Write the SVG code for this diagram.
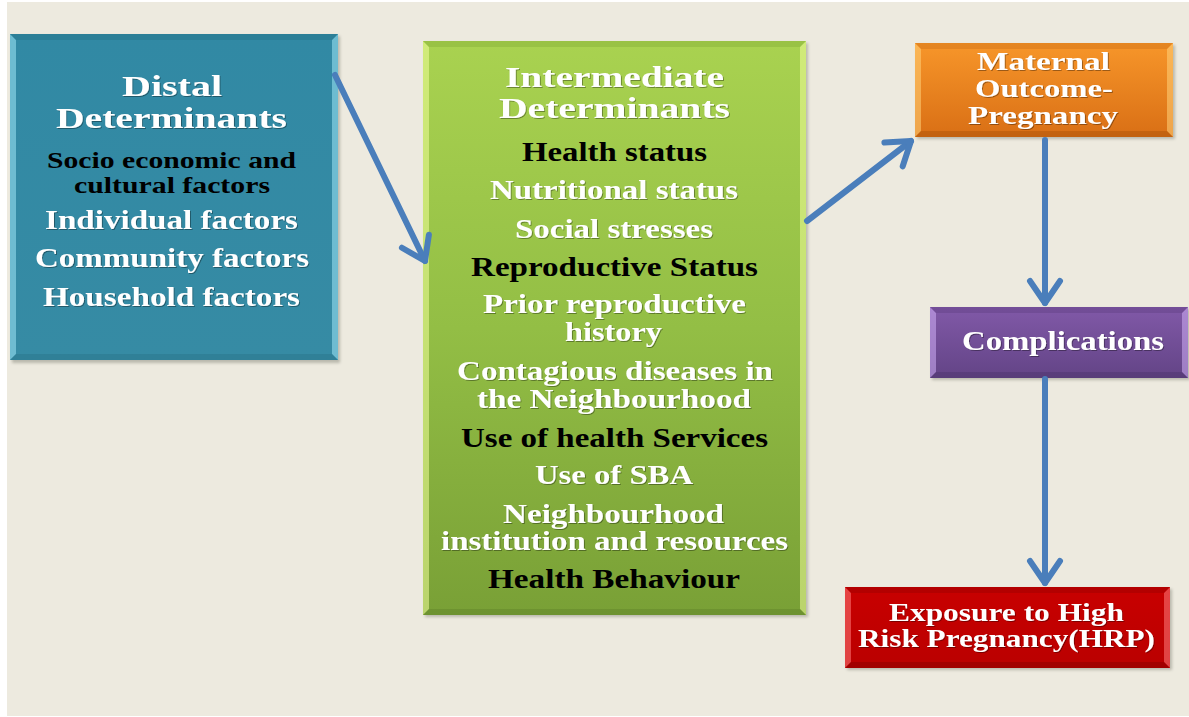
<svg xmlns="http://www.w3.org/2000/svg" width="1189" height="717" viewBox="0 0 1189 717">
  <defs>
    <style>
      .t { font-family: "Liberation Serif", "Times New Roman", serif; font-weight: bold; }
      .w { fill: #FFFFFF; }
      .k { fill: #000000; }
      .h { font-size: 30px; }
      .m { font-size: 27px; }
      .s { font-size: 24px; }
      .link { fill: none; stroke: #4A7EBB; stroke-width: 6; stroke-linecap: round; marker-end: url(#head); }
      .shadow { fill: #7a7a70; opacity: 0.45; filter: url(#soft); }
      .edge { opacity: 0.55; }
      .rim { opacity: 0.28; }
    </style>
    <filter id="soft" x="-5%" y="-5%" width="110%" height="110%">
      <feGaussianBlur stdDeviation="1.5"/>
    </filter>
    <filter id="tshadow" x="-5%" y="-20%" width="110%" height="140%">
      <feDropShadow dx="1" dy="1" stdDeviation="0.6" flood-color="#000" flood-opacity="0.35"/>
    </filter>
    <marker id="head" markerUnits="userSpaceOnUse" markerWidth="60" markerHeight="60" viewBox="-30 -30 60 60" refX="0" refY="0" orient="auto" overflow="visible">
      <path d="M-22,-15 L0,0 L-22,15" fill="none" stroke="#4A7EBB" stroke-width="6" stroke-linecap="round" stroke-linejoin="round"/>
    </marker>
    <linearGradient id="gTeal" x1="0" y1="0" x2="0" y2="1">
      <stop offset="0" stop-color="#3189A4"/>
      <stop offset="1" stop-color="#368BA4"/>
    </linearGradient>
    <linearGradient id="gGreen" x1="0" y1="0" x2="0" y2="1">
      <stop offset="0" stop-color="#A9D250"/>
      <stop offset="0.5" stop-color="#93BE45"/>
      <stop offset="1" stop-color="#79A036"/>
    </linearGradient>
    <linearGradient id="gOrange" x1="0" y1="0" x2="0" y2="1">
      <stop offset="0" stop-color="#F7962A"/>
      <stop offset="1" stop-color="#D96F15"/>
    </linearGradient>
    <linearGradient id="gPurple" x1="0" y1="0" x2="0" y2="1">
      <stop offset="0" stop-color="#8159A8"/>
      <stop offset="1" stop-color="#634486"/>
    </linearGradient>
    <linearGradient id="gRed" x1="0" y1="0" x2="0" y2="1">
      <stop offset="0" stop-color="#C80000"/>
      <stop offset="1" stop-color="#BA0000"/>
    </linearGradient>
  </defs>

  <!-- page -->
  <rect x="0" y="0" width="1189" height="717" fill="#FFFFFF"/>
  <rect x="7" y="2" width="1182" height="714" fill="#EDEADF"/>

  <!-- Distal determinants -->
  <g id="distal">
    <rect class="shadow" x="12" y="36" width="328" height="327"/>
    <rect x="10" y="34" width="328" height="326" fill="url(#gTeal)"/>
    <polygon class="edge" points="10,34 16,40 16,354 10,360" fill="#9FE6F5"/>
    <polygon class="edge" points="338,34 332,40 332,354 338,360" fill="#9FE6F5"/>
    <polygon class="rim" points="10,360 16,354 332,354 338,360" fill="#1F6478"/>
    <polygon class="rim" points="10,34 16,40 332,40 338,34" fill="#1F6478"/>
    <g filter="url(#tshadow)">
      <text class="t w h" x="122" y="96" textLength="100" lengthAdjust="spacingAndGlyphs">Distal</text>
      <text class="t w h" x="56" y="128" textLength="231" lengthAdjust="spacingAndGlyphs">Determinants</text>
    </g>
    <text class="t k s" x="47" y="168" textLength="249" lengthAdjust="spacingAndGlyphs">Socio economic and</text>
    <text class="t k s" x="74" y="193" textLength="196" lengthAdjust="spacingAndGlyphs">cultural factors</text>
    <g filter="url(#tshadow)">
      <text class="t w m" x="45" y="229" textLength="253" lengthAdjust="spacingAndGlyphs">Individual factors</text>
      <text class="t w m" x="35" y="267" textLength="274" lengthAdjust="spacingAndGlyphs">Community factors</text>
      <text class="t w m" x="43" y="306" textLength="257" lengthAdjust="spacingAndGlyphs">Household factors</text>
    </g>
  </g>

  <!-- Intermediate determinants -->
  <g id="intermediate">
    <rect class="shadow" x="425" y="43" width="383" height="574"/>
    <rect x="423" y="41" width="383" height="574" fill="url(#gGreen)"/>
    <polygon class="edge" points="423,41 429,47 429,609 423,615" fill="#F0FF9A"/>
    <polygon class="edge" points="806,41 800,47 800,609 806,615" fill="#F0FF9A"/>
    <polygon class="rim" points="423,615 429,609 800,609 806,615" fill="#4E6E20"/>
    <polygon class="rim" points="423,41 429,47 800,47 806,41" fill="#6E9A2C"/>
    <g filter="url(#tshadow)">
      <text class="t w h" x="505" y="87" textLength="219" lengthAdjust="spacingAndGlyphs">Intermediate</text>
      <text class="t w h" x="499" y="118" textLength="231" lengthAdjust="spacingAndGlyphs">Determinants</text>
    </g>
    <text class="t k m" x="522" y="161" textLength="185" lengthAdjust="spacingAndGlyphs">Health status</text>
    <text class="t w m" filter="url(#tshadow)" x="490" y="199" textLength="248" lengthAdjust="spacingAndGlyphs">Nutritional status</text>
    <text class="t w m" filter="url(#tshadow)" x="515" y="238" textLength="198" lengthAdjust="spacingAndGlyphs">Social stresses</text>
    <text class="t k m" x="471" y="276" textLength="287" lengthAdjust="spacingAndGlyphs">Reproductive Status</text>
    <g filter="url(#tshadow)">
      <text class="t w m" x="483" y="313" textLength="263" lengthAdjust="spacingAndGlyphs">Prior reproductive</text>
      <text class="t w m" x="565" y="341" textLength="97" lengthAdjust="spacingAndGlyphs">history</text>
      <text class="t w m" x="457" y="380" textLength="316" lengthAdjust="spacingAndGlyphs">Contagious diseases in</text>
      <text class="t w m" x="477" y="408" textLength="274" lengthAdjust="spacingAndGlyphs">the Neighbourhood</text>
    </g>
    <text class="t k m" x="461" y="447" textLength="307" lengthAdjust="spacingAndGlyphs">Use of health Services</text>
    <g filter="url(#tshadow)">
      <text class="t w m" x="535" y="484" textLength="158" lengthAdjust="spacingAndGlyphs">Use of SBA</text>
      <text class="t w m" x="503" y="523" textLength="221" lengthAdjust="spacingAndGlyphs">Neighbourhood</text>
      <text class="t w m" x="441" y="550" textLength="347" lengthAdjust="spacingAndGlyphs">institution and resources</text>
    </g>
    <text class="t k m" x="488" y="588" textLength="252" lengthAdjust="spacingAndGlyphs">Health Behaviour</text>
  </g>

  <!-- Maternal outcome -->
  <g id="maternal">
    <rect class="shadow" x="917" y="45" width="258" height="94"/>
    <rect x="915" y="43" width="258" height="94" fill="url(#gOrange)"/>
    <polygon class="edge" points="915,43 921,49 921,131 915,137" fill="#FFD27A"/>
    <polygon class="edge" points="1173,43 1167,49 1167,131 1173,137" fill="#FFD27A"/>
    <polygon class="rim" points="915,137 921,131 1167,131 1173,137" fill="#8A4005"/>
    <polygon class="rim" points="915,43 921,49 1167,49 1173,43" fill="#B85E10"/>
    <g filter="url(#tshadow)">
      <text class="t w" font-size="26" x="977" y="70" textLength="133" lengthAdjust="spacingAndGlyphs">Maternal</text>
      <text class="t w" font-size="26" x="975" y="97" textLength="138" lengthAdjust="spacingAndGlyphs">Outcome-</text>
      <text class="t w" font-size="26" x="968" y="124" textLength="150" lengthAdjust="spacingAndGlyphs">Pregnancy</text>
    </g>
  </g>

  <!-- Complications -->
  <g id="complications">
    <rect class="shadow" x="932" y="309" width="258" height="71"/>
    <rect x="930" y="307" width="258" height="71" fill="url(#gPurple)"/>
    <polygon class="edge" points="930,307 936,313 936,372 930,378" fill="#CFAFF5"/>
    <polygon class="edge" points="1188,307 1182,313 1182,372 1188,378" fill="#CFAFF5"/>
    <polygon class="rim" points="930,378 936,372 1182,372 1188,378" fill="#3E2A58"/>
    <polygon class="rim" points="930,307 936,313 1182,313 1188,307" fill="#4E3470"/>
    <text class="t w" font-size="27" filter="url(#tshadow)" x="962" y="350" textLength="202" lengthAdjust="spacingAndGlyphs">Complications</text>
  </g>

  <!-- Exposure to HRP -->
  <g id="exposure">
    <rect class="shadow" x="847" y="589" width="325" height="81"/>
    <rect x="845" y="587" width="325" height="81" fill="url(#gRed)"/>
    <polygon class="edge" points="845,587 851,593 851,662 845,668" fill="#FF7A7A"/>
    <polygon class="edge" points="1170,587 1164,593 1164,662 1170,668" fill="#FF7A7A"/>
    <polygon class="rim" points="845,668 851,662 1164,662 1170,668" fill="#600000"/>
    <polygon class="rim" points="845,587 851,593 1164,593 1170,587" fill="#800000"/>
    <g filter="url(#tshadow)">
      <text class="t w" font-size="25" x="889" y="621" textLength="235" lengthAdjust="spacingAndGlyphs">Exposure to High</text>
      <text class="t w" font-size="25" x="858" y="647" textLength="297" lengthAdjust="spacingAndGlyphs">Risk Pregnancy(HRP)</text>
    </g>
  </g>

  <!-- connectors -->
  <g id="connectors">
    <path class="link" d="M335,75 L425,261"/>
    <path class="link" d="M807,221 L911,141"/>
    <path class="link" d="M1045,140 L1045,303"/>
    <path class="link" d="M1045,379 L1045,583"/>
  </g>
</svg>
